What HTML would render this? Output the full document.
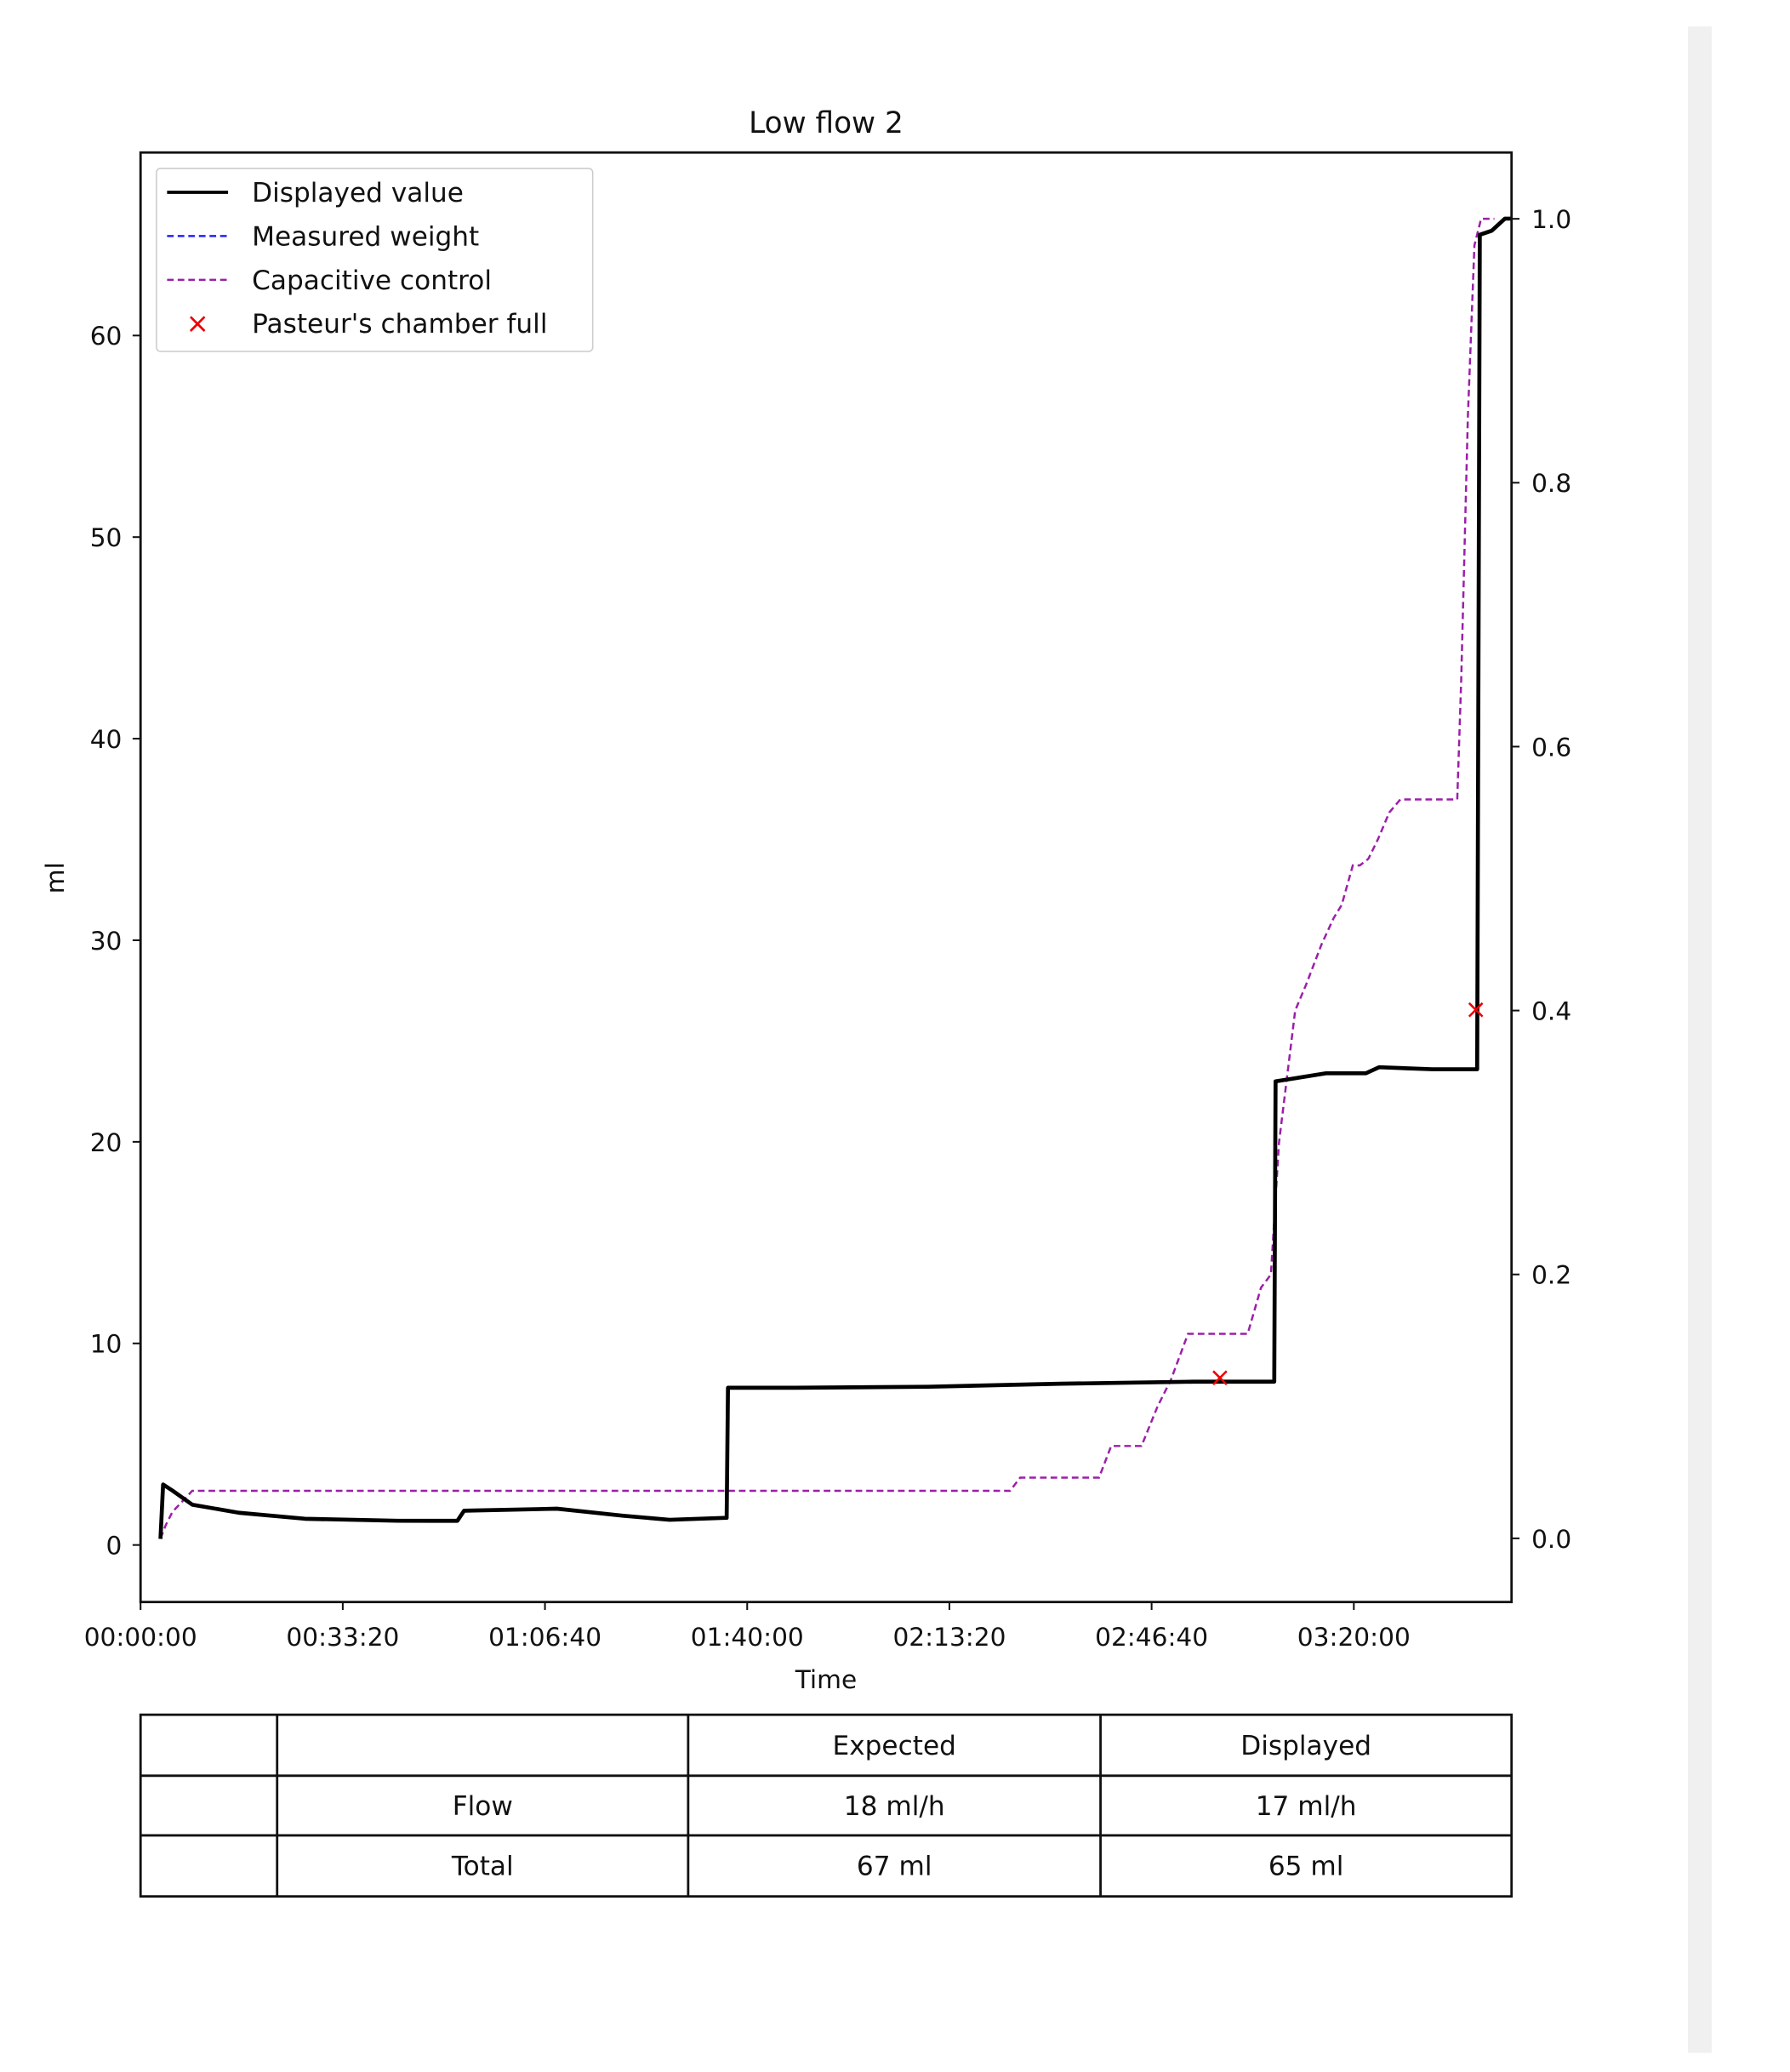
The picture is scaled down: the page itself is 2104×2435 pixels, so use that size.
<!DOCTYPE html>
<html><head><meta charset="utf-8"><style>
html,body{margin:0;padding:0;background:#fff;width:2104px;height:2435px;overflow:hidden}
svg{display:block}
text{font-family:"DejaVu Sans","Liberation Sans",sans-serif;fill:#111}
</style></head><body>
<svg id="chart" width="2104" height="2435" viewBox="0 0 1350 1562.4" xmlns="http://www.w3.org/2000/svg">
<rect x="1273" y="20" width="18" height="1528" fill="#f0f0f0"/>
<text x="623" y="100" font-size="22" text-anchor="middle">Low flow 2</text>
<g id="plot"></g>
<rect x="106" y="115" width="1034" height="1093" fill="none" stroke="#111" stroke-width="1.8"/>
<text transform="translate(48,662) rotate(-90)" font-size="19" text-anchor="middle">ml</text>
<text x="623" y="1273" font-size="19" text-anchor="middle">Time</text>
<g>
<rect x="118" y="127" width="329" height="138" rx="3" fill="#fff" fill-opacity="0.85" stroke="#ccc" stroke-width="1"/>
<line x1="126" y1="145" x2="172" y2="145" stroke="#000" stroke-width="2.4"/>
<text x="190" y="152" font-size="20">Displayed value</text>
<line x1="126" y1="178" x2="172" y2="178" stroke="#2020ff" stroke-width="1.6" stroke-dasharray="5,3"/>
<text x="190" y="185" font-size="20">Measured weight</text>
<line x1="126" y1="211" x2="172" y2="211" stroke="#9b1fa8" stroke-width="1.6" stroke-dasharray="5,3"/>
<text x="190" y="218" font-size="20">Capacitive control</text>
<text x="149" y="251" font-size="21" text-anchor="middle" style="fill:#e00">×</text>
<text x="190" y="251" font-size="20">Pasteur's chamber full</text>
</g>
<g id="table"></g>
</svg>
<script>
const timeTicks=[0,2000,4000,6000,8000,10000,12000];
const timeTickLabels=["00:00:00","00:33:20","01:06:40","01:40:00","02:13:20","02:46:40","03:20:00"];
const mlTicks=[0,10,20,30,40,50,60];
const rightTicks=[0,0.2,0.4,0.6,0.8,1.0];
const dispT=[197,223,315,511,971,1626,2544,3134,3200,4118,4774,5233,5797,5810,6479,7790,9102,10413,11213,11226,11725,12118,12249,12774,13220,13246,13364,13495,13560];
const dispV=[0.3,3.0,2.7,2.0,1.6,1.3,1.2,1.2,1.7,1.8,1.45,1.25,1.35,7.8,7.8,7.85,8.0,8.1,8.1,23.0,23.4,23.4,23.7,23.6,23.6,65.0,65.2,65.8,65.8];
const capT=[197,249,315,511,8600,8700,9480,9600,9900,10059,10190,10360,10950,11082,11180,11260,11340,11420,11530,11680,11800,11880,11990,12060,12144,12240,12350,12460,13023,13062,13128,13193,13259,13390];
const capV=[0,0.01,0.02,0.036,0.036,0.046,0.046,0.07,0.07,0.1,0.12,0.155,0.155,0.19,0.2,0.3,0.35,0.4,0.42,0.45,0.47,0.48,0.51,0.51,0.515,0.53,0.55,0.56,0.56,0.65,0.85,0.98,1.0,1.0];
const markT=[10676,13207];
const markV=[8.35,26.6];
const tableRows=[["","","Expected","Displayed"],["","Flow","18 ml/h","17 ml/h"],["","Total","67 ml","65 ml"]];

const NS="http://www.w3.org/2000/svg";
const X0=106,X1=1140,TMAX=13560;
const xs=t=>X0+(t/TMAX)*(X1-X0);
const yl=v=>1165-v*15.2;
const yr=v=>1160-v*995;
const plot=document.getElementById('plot');
function mk(tag,attrs,parent){const e=document.createElementNS(NS,tag);for(const k in attrs)e.setAttribute(k,attrs[k]);(parent||plot).appendChild(e);return e;}
timeTicks.forEach((t,i)=>{
 const l=mk('line',{x1:xs(t),x2:xs(t),y1:1208,y2:1214,stroke:'#111','stroke-width':1.3});
 
 
 const tx=mk('text',{x:xs(t),y:1241,'font-size':19,'text-anchor':'middle'});
 tx.textContent=timeTickLabels[i];
 
 
});
mlTicks.forEach(v=>{
 const l=mk('line',{x1:100,x2:106,y1:yl(v),y2:yl(v),stroke:'#111','stroke-width':1.3});
 
 
 const tx=mk('text',{x:92,y:yl(v)+7,'font-size':19,'text-anchor':'end'});
 tx.textContent=v;
 
 
});
rightTicks.forEach(v=>{
 const l=mk('line',{x1:1140,x2:1146,y1:yr(v),y2:yr(v),stroke:'#111','stroke-width':1.3});
 
 
 const tx=mk('text',{x:1155,y:yr(v)+7,'font-size':19});
 tx.textContent=v.toFixed(1);
 
 
});
const cp=mk('polyline',{points:capT.map((t,i)=>xs(t)+','+yr(capV[i])).join(' '),fill:'none',stroke:'#9b1fa8','stroke-width':1.6,'stroke-dasharray':'5,3'});


const dp=mk('polyline',{points:dispT.map((t,i)=>xs(t)+','+yl(dispV[i])).join(' '),fill:'none',stroke:'#000','stroke-width':3,'stroke-linejoin':'round'});


markT.forEach((t,i)=>{
 const tx=mk('text',{x:xs(t),y:yl(markV[i])+7,'font-size':20,'text-anchor':'middle',style:'fill:#e00'});
 tx.textContent='×';
 
 
});
const tg=document.getElementById('table');
const cols=[106,209,519,830,1140],rows=[1293,1339,1384,1430];
mk('rect',{x:106,y:1293,width:1034,height:137,fill:'#fff',stroke:'#111','stroke-width':1.8},tg);
rows.slice(1,3).forEach(y=>mk('line',{x1:106,x2:1140,y1:y,y2:y,stroke:'#111','stroke-width':1.8},tg));
cols.slice(1,4).forEach(x=>mk('line',{x1:x,x2:x,y1:1293,y2:1430,stroke:'#111','stroke-width':1.8},tg));
tableRows.forEach((r,ri)=>r.forEach((c,ci)=>{
 if(!c)return;
 const tx=mk('text',{x:(cols[ci]+cols[ci+1])/2,y:(rows[ri]+rows[ri+1])/2+7,'font-size':20,'text-anchor':'middle'},tg);
 tx.textContent=c;
 
 
}));
</script>
</body></html>
